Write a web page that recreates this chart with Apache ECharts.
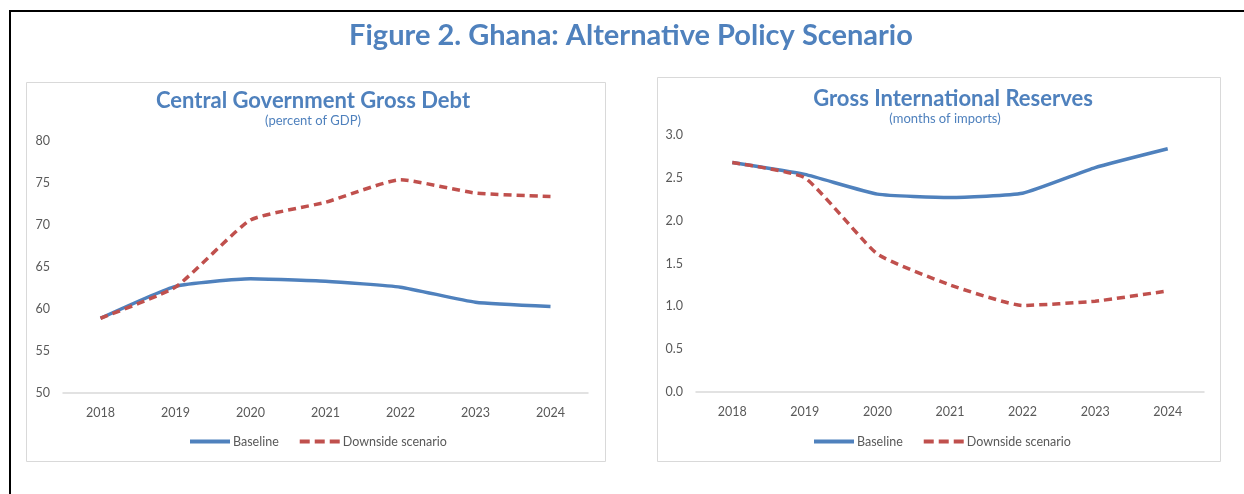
<!DOCTYPE html>
<html>
<head>
<meta charset="utf-8">
<title>Figure 2. Ghana: Alternative Policy Scenario</title>
<script src="https://cdn.jsdelivr.net/npm/echarts@6/dist/echarts.min.js"></script>
<style>
  html, body { margin: 0; padding: 0; background: #ffffff; }
  #chart { width: 1244px; height: 494px; }
</style>
</head>
<body>
<div id="chart"></div>
<script>
// Years on the horizontal axis of both panels
const years = ['2018', '2019', '2020', '2021', '2022', '2023', '2024'];

// Central government gross debt, percent of GDP
const debtBaseline = [58.9, 62.7, 63.6, 63.3, 62.6, 60.8, 60.3];
const debtDownside = [58.9, 62.6, 70.6, 72.7, 75.4, 73.8, 73.4];

// Gross international reserves, months of imports
const reservesBaseline = [2.68, 2.54, 2.31, 2.27, 2.32, 2.62, 2.84];
const reservesDownside = [2.68, 2.50, 1.61, 1.25, 1.01, 1.06, 1.18];

const seriesNames = ['Baseline', 'Downside scenario'];

const BLUE = '#4F81BD';
const RED = '#C0504D';
const AXIS_GREY = '#d9d9d9';
const LABEL_GREY = '#595959';
const FONT = 'Lato, "Open Sans", sans-serif';

const chart = echarts.init(document.getElementById('chart'), null, { renderer: 'canvas' });

function xAxisFor(gridIndex) {
  return {
    type: 'category',
    gridIndex: gridIndex,
    data: years,
    boundaryGap: true,
    axisLine: { show: true, lineStyle: { color: AXIS_GREY, width: 1.5 } },
    axisTick: { show: false },
    axisLabel: { color: LABEL_GREY, fontFamily: FONT, fontSize: 12.5, margin: 13 },
    splitLine: { show: false }
  };
}

function yAxisFor(gridIndex, min, max, interval, decimals) {
  return {
    type: 'value',
    gridIndex: gridIndex,
    min: min,
    max: max,
    interval: interval,
    axisLine: { show: false },
    axisTick: { show: false },
    splitLine: { show: false },
    axisLabel: {
      color: LABEL_GREY, fontFamily: FONT, fontSize: 12.5, margin: 13,
      formatter: v => v.toFixed(decimals)
    }
  };
}

function lineSeries(name, data, axisIndex, dashed) {
  return {
    name: name,
    type: 'line',
    xAxisIndex: axisIndex,
    yAxisIndex: axisIndex,
    data: data,
    smooth: 0.15,
    symbol: 'none',
    z: dashed ? 3 : 2,
    lineStyle: dashed
      ? { color: RED, width: 3.5, type: [8, 5] }
      : { color: BLUE, width: 3.5 },
    itemStyle: { color: dashed ? RED : BLUE }
  };
}

function legendFor(leftX, names) {
  return {
    left: leftX,
    top: 430,
    orient: 'horizontal',
    data: [
      { name: names[0], lineStyle: { color: BLUE, width: 4, type: 'solid' } },
      { name: names[1], lineStyle: { color: RED, width: 4, type: [10, 5] } }
    ],
    itemWidth: 40,
    itemHeight: 14,
    itemGap: 19,
    selectedMode: false,
    itemStyle: { opacity: 0, borderWidth: 0 },
    textStyle: { color: LABEL_GREY, fontFamily: FONT, fontSize: 12.5, padding: [0, 0, 0, -2] }
  };
}

const titleFont = 'bold 29px ' + FONT;
const panelTitleFont = 'bold 22px ' + FONT;
const panelSubFont = '13px ' + FONT;

const option = {
  animation: false,
  backgroundColor: '#ffffff',
  graphic: [
    // outer frame of the figure
    { type: 'rect', shape: { x: 10, y: 11, width: 1260, height: 520 },
      style: { fill: null, stroke: '#000000', lineWidth: 2 }, z: 0 },
    // panel frames
    { type: 'rect', shape: { x: 26.5, y: 82.5, width: 579, height: 379 },
      style: { fill: '#ffffff', stroke: AXIS_GREY, lineWidth: 1 }, z: 0 },
    { type: 'rect', shape: { x: 657.5, y: 77.5, width: 563, height: 384 },
      style: { fill: '#ffffff', stroke: AXIS_GREY, lineWidth: 1 }, z: 0 },
    // figure title
    { type: 'text', x: 631, y: 36, z: 10,
      style: { text: 'Figure 2. Ghana: Alternative Policy Scenario', font: titleFont,
               fill: BLUE, align: 'center', verticalAlign: 'middle' } },
    // panel titles
    { type: 'text', x: 313, y: 101, z: 10,
      style: { text: 'Central Government Gross Debt', font: panelTitleFont,
               fill: BLUE, align: 'center', verticalAlign: 'middle' } },
    { type: 'text', x: 313, y: 121, z: 10,
      style: { text: '(percent of GDP)', font: panelSubFont,
               fill: BLUE, align: 'center', verticalAlign: 'middle' } },
    { type: 'text', x: 953, y: 99, z: 10,
      style: { text: 'Gross International Reserves', font: panelTitleFont,
               fill: BLUE, align: 'center', verticalAlign: 'middle' } },
    { type: 'text', x: 945, y: 119, z: 10,
      style: { text: '(months of imports)', font: panelSubFont,
               fill: BLUE, align: 'center', verticalAlign: 'middle' } }
  ],
  grid: [
    { left: 63, top: 141, width: 525, height: 252, containLabel: false },
    { left: 696, top: 135, width: 508, height: 257, containLabel: false }
  ],
  xAxis: [xAxisFor(0), xAxisFor(1)],
  yAxis: [
    yAxisFor(0, 50, 80, 5, 0),
    yAxisFor(1, 0, 3, 0.5, 1)
  ],
  legend: [
    legendFor(183, seriesNames),
    legendFor(807, seriesNames)
  ],
  series: [
    lineSeries(seriesNames[0], debtBaseline, 0, false),
    lineSeries(seriesNames[1], debtDownside, 0, true),
    lineSeries(seriesNames[0], reservesBaseline, 1, false),
    lineSeries(seriesNames[1], reservesDownside, 1, true)
  ]
};

chart.setOption(option);
</script>
</body>
</html>
